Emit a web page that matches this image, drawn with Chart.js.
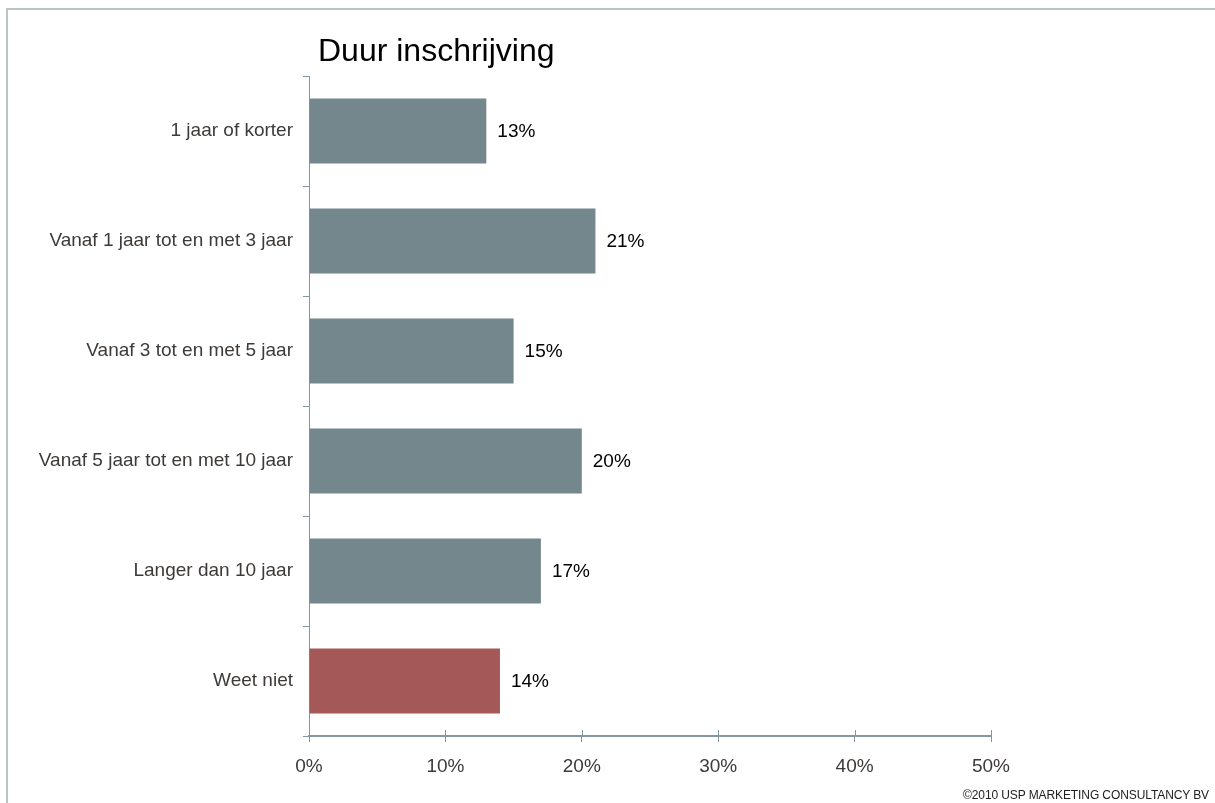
<!DOCTYPE html>
<html>
<head>
<meta charset="utf-8">
<script src="https://cdn.jsdelivr.net/npm/chart.js@4/dist/chart.umd.min.js"></script>
<style>
    html, body { margin: 0; padding: 0; background: #fff; overflow: hidden; }
    #wrap { position: relative; width: 1215px; height: 803px; }
    #frame {
        position: absolute; left: 6px; top: 8px; width: 1300px; height: 900px;
        border-top: 2px solid #b9c5c5; border-left: 2px solid #b9c5c5;
    }
    #copy {
        position: absolute; right: 6px; bottom: 1px;
        font: 12px "Liberation Sans", Arial, sans-serif; color: #222;
        letter-spacing: -0.1px;
    }
    canvas { position: absolute; left: 0; top: 0; }
</style>
</head>
<body>
<div id="wrap">
    <div id="frame"></div>
    <canvas id="durationChart" width="1215" height="803"></canvas>
    <div id="copy">©2010 USP MARKETING CONSULTANCY BV</div>
</div>
<script>
// Categorieën en percentages
const categories = [
    '1 jaar of korter',
    'Vanaf 1 jaar tot en met 3 jaar',
    'Vanaf 3 tot en met 5 jaar',
    'Vanaf 5 jaar tot en met 10 jaar',
    'Langer dan 10 jaar',
    'Weet niet'
];
const percentages = [13, 21, 15, 20, 17, 14];
const barColors = ['#74878d', '#74878d', '#74878d', '#74878d', '#74878d', '#a55858'];
const xTicks = [0, 10, 20, 30, 40, 50];

const axisColor = '#8697a1';
const fontFamily = '"Liberation Sans", Arial, sans-serif';
const labelFont = { family: fontFamily, size: 19 };

// Titel links boven het plotgebied
const titlePlugin = {
    id: 'leftTitle',
    afterDraw(chart) {
        const { ctx, chartArea } = chart;
        ctx.save();
        ctx.font = '32px ' + fontFamily;
        ctx.fillStyle = '#000';
        ctx.textBaseline = 'alphabetic';
        ctx.fillText('Duur inschrijving', chartArea.left + 9, 61);
        ctx.restore();
    }
};

// Percentage rechts naast elke balk
const valueLabels = {
    id: 'valueLabels',
    afterDatasetsDraw(chart) {
        const { ctx } = chart;
        const meta = chart.getDatasetMeta(0);
        ctx.save();
        ctx.font = '19px ' + fontFamily;
        ctx.fillStyle = '#000';
        ctx.textBaseline = 'middle';
        meta.data.forEach((bar, i) => {
            ctx.fillText(percentages[i] + '%', bar.x + 11, bar.y + 1);
        });
        ctx.restore();
    }
};

// Streepjes van de x-as steken ook boven de lijn uit
const crossTicks = {
    id: 'crossTicks',
    afterDraw(chart) {
        const { ctx, scales } = chart;
        const x = scales.x;
        ctx.save();
        ctx.strokeStyle = axisColor;
        ctx.lineWidth = 1;
        xTicks.forEach(v => {
            const px = Math.round(x.getPixelForValue(v)) + 0.5;
            ctx.beginPath();
            ctx.moveTo(px, x.top - 6);
            ctx.lineTo(px, x.top);
            ctx.stroke();
        });
        ctx.restore();
    }
};

new Chart(document.getElementById('durationChart').getContext('2d'), {
    type: 'bar',
    data: {
        labels: categories,
        datasets: [{
            data: percentages,
            backgroundColor: barColors,
            borderWidth: 0,
            categoryPercentage: 1,
            barPercentage: 0.59
        }]
    },
    options: {
        indexAxis: 'y',
        responsive: false,
        animation: false,
        layout: { padding: { top: 76, right: 224, bottom: 0, left: 0 } },
        plugins: {
            legend: { display: false },
            tooltip: { enabled: false }
        },
        scales: {
            y: {
                afterFit(scale) { scale.width = 309; },
                grid: {
                    offset: true,
                    drawOnChartArea: false,
                    tickLength: 6,
                    color: axisColor
                },
                border: { color: axisColor, width: 1 },
                ticks: { color: '#3d3a38', font: labelFont, padding: 10 }
            },
            x: {
                min: 0,
                max: 50,
                afterFit(scale) { scale.height = 67; },
                afterBuildTicks(scale) { scale.ticks = xTicks.map(v => ({ value: v })); },
                grid: {
                    drawOnChartArea: false,
                    tickLength: 6,
                    color: axisColor
                },
                border: { color: axisColor, width: 2 },
                ticks: {
                    color: '#3d3a38',
                    font: labelFont,
                    padding: 13,
                    callback: v => v + '%'
                }
            }
        }
    },
    plugins: [titlePlugin, valueLabels, crossTicks]
});
</script>
</body>
</html>
